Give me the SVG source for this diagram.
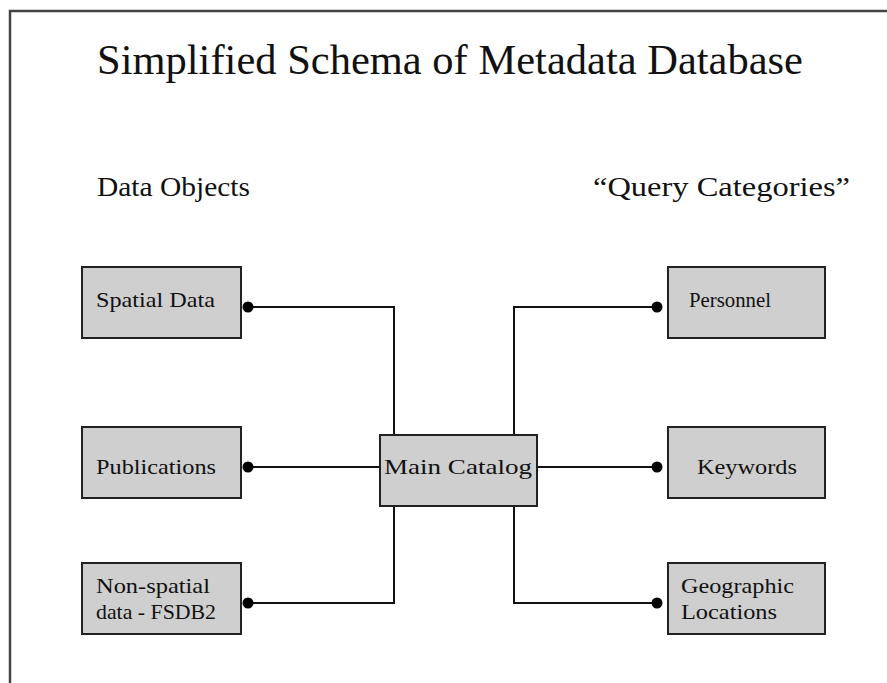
<svg xmlns="http://www.w3.org/2000/svg" width="887" height="683" viewBox="0 0 887 683">
<defs>
<style>
.box{fill:#cfcfcf;stroke:#222;stroke-width:2}
.lbl{font-family:"Liberation Serif","Times New Roman",serif;font-size:21px;fill:#111}
.hdr{font-family:"Liberation Serif","Times New Roman",serif;font-size:27px;fill:#111}
.ttl{font-family:"Liberation Serif","Times New Roman",serif;font-size:43px;fill:#111}
.con{fill:none;stroke:#111;stroke-width:2}
</style>
<marker id="dot" markerUnits="userSpaceOnUse" markerWidth="14" markerHeight="14" refX="7" refY="7" orient="auto">
<circle cx="7" cy="7" r="5.5" fill="#000"/>
</marker>
</defs>
<rect width="887" height="683" fill="#fff"/>
<path d="M10 683 V11 H887" fill="none" stroke="#444" stroke-width="2.5"/>
<text class="ttl" x="97" y="74" textLength="706" lengthAdjust="spacingAndGlyphs">Simplified Schema of Metadata Database</text>
<text class="hdr" x="97" y="196" textLength="153" lengthAdjust="spacingAndGlyphs">Data Objects</text>
<text class="hdr" x="593" y="196" textLength="257" lengthAdjust="spacingAndGlyphs">“Query Categories”</text>
<g id="connectors">
<path class="con" d="M394 435 V307 H248" marker-end="url(#dot)"/>
<path class="con" d="M380 467 H248" marker-end="url(#dot)"/>
<path class="con" d="M394 506 V603 H248" marker-end="url(#dot)"/>
<path class="con" d="M514 435 V307 H657" marker-end="url(#dot)"/>
<path class="con" d="M537 467 H657" marker-end="url(#dot)"/>
<path class="con" d="M514 506 V603 H657" marker-end="url(#dot)"/>
</g>
<g id="spatial-data">
<rect class="box" x="82" y="267" width="159" height="71"/>
<text class="lbl" x="96" y="307" textLength="119" lengthAdjust="spacingAndGlyphs">Spatial Data</text>
</g>
<g id="publications">
<rect class="box" x="82" y="427" width="159" height="71"/>
<text class="lbl" x="96" y="474" textLength="120" lengthAdjust="spacingAndGlyphs">Publications</text>
</g>
<g id="non-spatial">
<rect class="box" x="82" y="563" width="159" height="71"/>
<text class="lbl" x="96" y="593" textLength="114" lengthAdjust="spacingAndGlyphs">Non-spatial</text>
<text class="lbl" x="96" y="619" textLength="120" lengthAdjust="spacingAndGlyphs">data - FSDB2</text>
</g>
<g id="main-catalog">
<rect class="box" x="380" y="435" width="157" height="71"/>
<text class="lbl" x="384" y="474" textLength="148" lengthAdjust="spacingAndGlyphs">Main Catalog</text>
</g>
<g id="personnel">
<rect class="box" x="668" y="267" width="157" height="71"/>
<text class="lbl" x="689" y="307" textLength="82" lengthAdjust="spacingAndGlyphs">Personnel</text>
</g>
<g id="keywords">
<rect class="box" x="668" y="427" width="157" height="71"/>
<text class="lbl" x="697" y="474" textLength="100" lengthAdjust="spacingAndGlyphs">Keywords</text>
</g>
<g id="geographic-locations">
<rect class="box" x="668" y="563" width="157" height="71"/>
<text class="lbl" x="681" y="593" textLength="113" lengthAdjust="spacingAndGlyphs">Geographic</text>
<text class="lbl" x="681" y="619" textLength="96" lengthAdjust="spacingAndGlyphs">Locations</text>
</g>
</svg>
